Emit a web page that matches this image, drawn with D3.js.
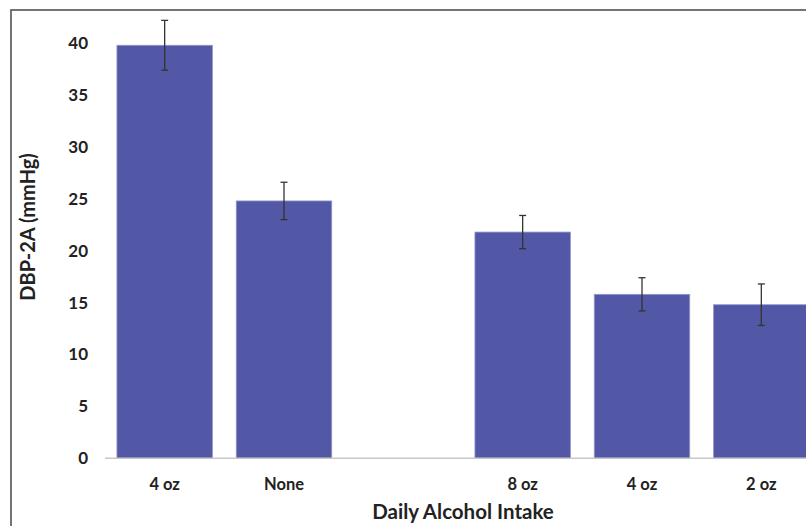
<!DOCTYPE html>
<html>
<head>
<meta charset="utf-8">
<script src="https://cdn.jsdelivr.net/npm/d3@7"></script>
<style>
  body { margin: 0; background: #fff; }
  text { font-family: Lato, "Open Sans", sans-serif; fill: #222; }
</style>
</head>
<body>
<svg id="chart" width="806" height="526"></svg>
<script>
    // ---------------- Data ----------------
    const categories = ["4 oz", "None", "", "8 oz", "4 oz ", "2 oz"];
    const values = [39.8, 24.8, null, 21.8, 15.8, 14.8];
    const errors = [2.4, 1.8, null, 1.6, 1.6, 2.0];
    const yTicks = [0, 5, 10, 15, 20, 25, 30, 35, 40];

    const data = categories.map((c, i) => ({ cat: c, value: values[i], err: errors[i] }))
      .filter(d => d.value != null);

    const svg = d3.select("#chart");

    // frame round the chart
    svg.append("rect")
      .attr("x", 11).attr("y", 10)
      .attr("width", 820).attr("height", 540)
      .attr("fill", "none")
      .attr("stroke", "#666")
      .attr("stroke-width", 1.8);

    const x = d3.scaleBand()
      .domain(categories)
      .range([105, 821])
      .paddingInner(0.2)
      .paddingOuter(0.1);

    const y = d3.scaleLinear()
      .domain([0, 40])
      .range([458.3, 43.2]);

    // y tick labels
    svg.append("g")
      .selectAll("text")
      .data(yTicks)
      .enter()
      .append("text")
      .attr("x", 88)
      .attr("y", d => y(d))
      .attr("dy", "0.35em")
      .attr("text-anchor", "end")
      .attr("font-size", 17)
      .attr("font-weight", 700)
      .text(d => d);

    // bars
    svg.append("g")
      .selectAll("rect")
      .data(data)
      .enter()
      .append("rect")
      .attr("x", d => x(d.cat))
      .attr("y", d => y(d.value))
      .attr("width", x.bandwidth())
      .attr("height", d => y(0) - y(d.value))
      .attr("fill", "#5257a6")
      .attr("stroke", "#9497cc")
      .attr("stroke-width", 0.8);

    // x axis line
    svg.append("line")
      .attr("x1", 105).attr("x2", 821)
      .attr("y1", y(0)).attr("y2", y(0))
      .attr("stroke", "#c8c8c8")
      .attr("stroke-width", 1.5);

    // error bars
    const eb = svg.append("g")
      .attr("stroke", "#333")
      .attr("stroke-width", 1.3);

    data.forEach(d => {
      const cx = x(d.cat) + x.bandwidth() / 2;
      eb.append("line")
        .attr("x1", cx).attr("x2", cx)
        .attr("y1", y(d.value + d.err)).attr("y2", y(d.value - d.err));
      [d.value + d.err, d.value - d.err].forEach(v => {
        eb.append("line")
          .attr("x1", cx - 3.5).attr("x2", cx + 3.5)
          .attr("y1", y(v)).attr("y2", y(v));
      });
    });

    // category labels
    svg.append("g")
      .selectAll("text")
      .data(categories.filter(c => c !== ""))
      .enter()
      .append("text")
      .attr("x", d => x(d) + x.bandwidth() / 2)
      .attr("y", 490)
      .attr("text-anchor", "middle")
      .attr("font-size", 16.5)
      .attr("font-weight", 700)
      .text(d => d.trim());

    // axis titles
    svg.append("text")
      .attr("x", 463)
      .attr("y", 519)
      .attr("text-anchor", "middle")
      .attr("font-size", 20.5)
      .attr("font-weight", 700)
      .text("Daily Alcohol Intake");

    svg.append("text")
      .attr("transform", "translate(35,227) rotate(-90)")
      .attr("text-anchor", "middle")
      .attr("font-size", 20)
      .attr("font-weight", 700)
      .text("DBP-2A (mmHg)");
</script>
</body>
</html>
